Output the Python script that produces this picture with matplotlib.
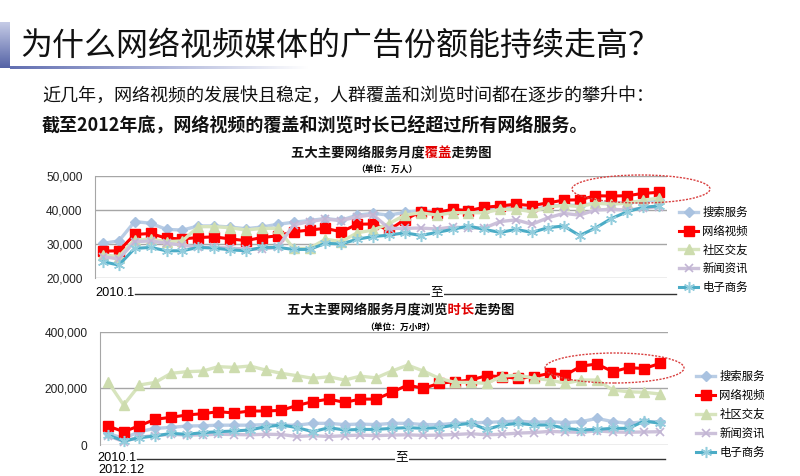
import numpy as np
import matplotlib
matplotlib.use("Agg")
import matplotlib.pyplot as plt
from matplotlib.patches import Ellipse
from matplotlib.lines import Line2D
from matplotlib.colors import LinearSegmentedColormap

plt.rcParams['font.family'] = ['Noto Sans CJK SC', 'DejaVu Sans']

W, H = 800, 476

# ---- data ----
months = np.arange(36)   # 2010.1 .. 2012.12
names = ["搜索服务", "网络视频", "社区交友", "新闻资讯", "电子商务"]

# monthly coverage, 万人
search_cov = [30200, 30900, 36600, 36100, 34300, 34100, 35300, 35300, 35000, 34500, 35000, 35800,
              36400, 36900, 37500, 37000, 38500, 39000, 38500, 39300, 39800, 39500, 40000, 40000,
              39800, 40500, 40600, 40000, 41000, 41500, 41300, 42000, 42000, 42200, 42600, 43000]
video_cov = [27900, 28000, 32800, 33100, 31700, 31500, 31900, 32100, 31500, 31000, 31900, 32400,
             33600, 34100, 34600, 33600, 35800, 35900, 34100, 37200, 39500, 39200, 40200, 39800,
             40800, 41200, 41700, 41300, 42100, 42900, 43000, 44200, 44100, 44200, 44900, 45200]
social_cov = [26800, 26300, 31200, 31400, 30700, 30900, 35100, 35100, 34800, 34100, 34600, 34600,
              28700, 28700, 31400, 30700, 33300, 34100, 36000, 38500, 39200, 38500, 39200, 39200,
              39200, 40200, 40200, 39500, 40800, 41400, 41000, 42000, 41700, 42000, 42900, 43500]
news_cov = [26300, 25600, 30700, 30900, 30200, 29700, 29000, 29000, 28800, 28500, 28500, 29000,
            35600, 36600, 37300, 36900, 38000, 38600, 34600, 34600, 34700, 34400, 35000, 34700,
            34700, 36600, 37100, 35800, 37700, 39000, 38500, 40000, 40200, 40000, 40500, 41000]
ecom_cov = [24800, 23800, 28700, 29000, 28000, 28000, 29000, 28800, 28300, 28000, 29000, 29000,
            28400, 28400, 30200, 30000, 31400, 32200, 32600, 33300, 32500, 33400, 34300, 35300,
            34300, 33400, 34300, 33400, 34800, 35300, 32500, 34700, 37500, 39500, 40800, 41200]

# monthly browsing time, 万小时
search_time = [41000, 23500, 47000, 58800, 62000, 67000, 68000, 70000, 70000, 70000, 72000, 70000,
               70000, 76500, 76500, 72000, 74000, 72000, 76500, 76500, 72000, 72000, 76500, 78000,
               80000, 82000, 84700, 80000, 82400, 79000, 82400, 94000, 82400, 76500, 82400, 82400]
video_time = [67000, 47000, 68000, 90700, 97800, 105900, 110600, 117700, 113000, 120000, 120000, 122400,
              140000, 153000, 162000, 150600, 162000, 162000, 186000, 211800, 200000, 217700, 223500, 229400,
              244700, 241000, 235300, 241000, 253000, 247000, 278800, 285900, 258800, 273000, 270000, 288300]
social_time = [223500, 141000, 211800, 221000, 253000, 258800, 261000, 276500, 274000, 278800, 264700, 253000,
               244700, 235300, 241000, 229400, 243000, 237000, 261000, 282000, 261000, 235300, 221000, 221000,
               217700, 243000, 247000, 235300, 229400, 217700, 229400, 229400, 194000, 188000, 186000, 180000]
news_time = [33000, 12000, 28000, 33000, 38000, 35000, 36000, 38000, 37000, 36000, 38000, 37000,
             30000, 33000, 30000, 33000, 35000, 33000, 35000, 36000, 34000, 35000, 37000, 40000,
             36000, 38000, 42000, 44000, 48000, 46000, 45000, 50000, 46000, 45000, 46000, 47000]
ecom_time = [35300, 14100, 25900, 31800, 41200, 37600, 43500, 47000, 49400, 53000, 64700, 70600,
             61200, 47000, 61200, 53000, 55000, 55000, 58800, 61200, 58800, 61200, 70600, 76500,
             55000, 70600, 76500, 70600, 70600, 58800, 53000, 55000, 58800, 58800, 84700, 76500]

cov_ticks = [20000, 30000, 40000, 50000]
time_ticks = [0, 200000, 400000]

styles = [
    dict(color='#b9cde5', marker='D', ms=5, mfc='#a9c2e0', mec='#a9c2e0', lw=2.4),
    dict(color='#ff0000', marker='s', ms=7.5, mfc='#ff0000', mec='#ff0000', lw=2.2),
    dict(color='#d7e4bd', marker='^', ms=7, mfc='#cddcae', mec='#cddcae', lw=2.4),
    dict(color='#ccc1da', marker='x', ms=6, mfc='#c2b5d4', mec='#c2b5d4', mew=1.2, lw=2.4),
    dict(color='#4bacc6', marker=(6, 2, 0), ms=8, mec='#93cddd', mew=1.1, lw=2.2),
]


def fx(x):
    return x / W


def fy(y):
    return 1 - y / H


fig = plt.figure(figsize=(8, 4.76), dpi=100)

# title decoration
bar = fig.add_axes([0, fy(68), fx(10), 46 / H])
bar.imshow(np.linspace(0, 1, 50).reshape(-1, 1), aspect='auto',
           cmap=LinearSegmentedColormap.from_list('b', ['#c5cbe6', '#5563a6']))
bar.axis('off')
uline = fig.add_axes([fx(10), fy(69), fx(300), 3 / H])
uline.imshow(np.linspace(0, 1, 100).reshape(1, -1), aspect='auto',
             cmap=LinearSegmentedColormap.from_list('u', ['#6370b2', '#aeb5da', '#ffffff']))
uline.axis('off')

fig.text(fx(20), fy(46), "为什么网络视频媒体的广告份额能持续走高？", fontsize=23, fontweight='light',
         va='center', ha='left', color='#111111')
fig.text(fx(42), fy(96), "近几年，网络视频的发展快且稳定，人群覆盖和浏览时间都在逐步的攀升中：",
         fontsize=13, va='center', ha='left', color='#111111')
fig.text(fx(42), fy(126), "截至2012年底，网络视频的覆盖和浏览时长已经超过所有网络服务。",
         fontsize=13, fontweight='bold', va='center', ha='left', color='#111111')


def chart_title(xc, y, pre, red, post, size):
    # two layers of the same string: black with the red words blanked out by
    # ideographic spaces, red with everything else blanked out
    n = len(pre + red + post)
    x0 = xc - size * 100 / 72 * n / 2
    sp = "\u3000"
    black = pre + sp * len(red) + post
    reds = sp * len(pre) + red + sp * len(post)
    fig.text(fx(x0), fy(y), black, fontsize=size, fontweight='bold', ha='left', va='center', color='#111111')
    fig.text(fx(x0), fy(y), reds, fontsize=size, fontweight='bold', ha='left', va='center', color='#e00000')


chart_title(391, 153, "五大主要网络服务月度", "覆盖", "走势图", 9.6)
fig.text(fx(387), fy(169), "（单位：万人）", fontsize=6.3, fontweight='bold', ha='center', va='center')
chart_title(400, 310, "五大主要网络服务月度浏览", "时长", "走势图", 9.6)
fig.text(fx(400), fy(327), "（单位：万小时）", fontsize=6.3, fontweight='bold', ha='center', va='center')


def setup(ax, ticks, ylim):
    ax.set_xlim(-0.5, 35.5)
    ax.set_ylim(*ylim)
    ax.set_yticks(ticks)
    ax.set_yticklabels([f"{t:,}" for t in ticks], family='Liberation Sans', fontsize=8.6, color='#222222')
    ax.set_xticks([])
    ax.tick_params(axis='y', length=0, pad=9)
    for s in ['top', 'right', 'bottom']:
        ax.spines[s].set_visible(False)
    ax.spines['left'].set_color('#a6a6a6')
    ax.grid(axis='y', color='#a6a6a6', lw=1)
    ax.set_axisbelow(True)


ax1 = fig.add_axes([fx(95), fy(278), fx(572), 102 / H])
setup(ax1, cov_ticks, (20000, 50000))
for vals, name, st in zip([search_cov, video_cov, social_cov, news_cov, ecom_cov], names, styles):
    ax1.plot(months, vals, label=name, clip_on=False, **st)
ax1.legend(loc='upper left', bbox_to_anchor=(fx(679), fy(207)), bbox_transform=fig.transFigure,
           frameon=False, fontsize=8.2, handlelength=1.7, handletextpad=0.35, labelspacing=0.66,
           borderpad=0, borderaxespad=0, numpoints=1)

ax2 = fig.add_axes([fx(100), fy(445), fx(568), 113.3 / H])
setup(ax2, time_ticks, (0, 400000))
for vals, name, st in zip([search_time, video_time, social_time, news_time, ecom_time], names, styles):
    ax2.plot(months, vals, label=name, clip_on=False, **st)
ax2.legend(loc='upper left', bbox_to_anchor=(fx(696), fy(371)), bbox_transform=fig.transFigure,
           frameon=False, fontsize=8.2, handlelength=1.7, handletextpad=0.35, labelspacing=0.68,
           borderpad=0, borderaxespad=0, numpoints=1)

# category range labels under each chart
for y, x0, x1, xm in [(294, 135, 676, 437), (459, 137, 665, 402)]:
    fig.add_artist(Line2D([fx(x0), fx(x1)], [fy(y), fy(y)], color='#333333', lw=1))
    fig.text(fx(x0 - 1), fy(y - 1), "2010.1", family='Liberation Sans', fontsize=9.2, ha='right', va='center')
    fig.text(fx(xm), fy(y - 2), "至", fontsize=9, ha='center', va='center',
             bbox=dict(facecolor='white', edgecolor='none', pad=0.5))
fig.text(fx(98), fy(470), "2012.12", family='Liberation Sans', fontsize=9.2, ha='left', va='center')

# dotted highlight ellipses
for cx, cy, ew, eh in [(641, 189, 138, 28), (614.5, 368, 139, 30)]:
    fig.add_artist(Ellipse((fx(cx), fy(cy)), ew / W, eh / H, transform=fig.transFigure,
                           fill=False, edgecolor='#d94040', lw=1, ls=(0, (1.5, 1))))

fig.savefig("out.png", dpi=100)
